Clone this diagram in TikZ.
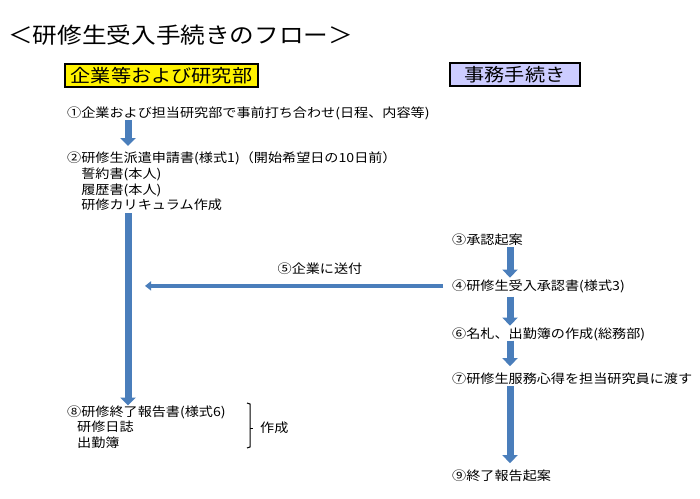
\documentclass[tikz,border=0pt]{standalone}
\usepackage{fontspec}
\setmainfont{Noto Sans CJK JP}[FakeStretch=1.12]
\usetikzlibrary{arrows.meta,positioning}
\definecolor{flowblue}{RGB}{74,126,187}
\definecolor{boxlav}{RGB}{204,204,255}

\begin{document}
\begin{tikzpicture}[x=1pt,y=-1pt]
	\tikzset{stepnote/.style={anchor=base west, inner sep=0pt, align=left,
				font=\fontsize{12.6}{15.6}\selectfont}}
	\tikzset{stepblock/.style={stepnote, anchor=north west}}
	\tikzset{headbox/.style={draw=black, line width=1.2pt, inner sep=0pt,
				minimum height=23pt, font=\fontsize{18}{20}\selectfont}}
	\tikzset{bigarrow/.style={draw=flowblue, line width=7pt,
				-{Triangle[width=15pt,length=8pt]}}}
	\tikzset{thinarrow/.style={draw=flowblue, line width=4pt,
				-{Triangle[width=9pt,length=6pt]}}}

	\useasboundingbox (0,0) rectangle (700,498);

	% title and column heads
	\node[anchor=west, inner sep=0pt, font=\fontsize{22}{26}\selectfont] (title) at (8,35) {＜研修生受入手続きのフロー＞};
	\node[headbox, fill=yellow, minimum width=193pt] (kigyo) at (161.5,75.5) {企業等および研究部};
	\node[headbox, fill=boxlav, minimum width=130pt] (jimu) at (515,74.5) {事務手続き};

	% left column
	\node[stepnote] (s1) at (67,117.5) {①企業および担当研究部で事前打ち合わせ(日程、内容等)};
	\node[stepblock] (s2) at (67,152) {②研修生派遣申請書(様式1)（開始希望日の10日前）\\　誓約書(本人)\\　履歴書(本人)\\　研修カリキュラム作成};
	\node[stepblock] (s8) at (67,405.5) {⑧研修終了報告書(様式6)\\\hspace{10pt}研修日誌\\\hspace{10pt}出勤簿};
	\node[anchor=west, inner sep=0pt, font=\fontsize{12.6}{15.6}\selectfont] (sakusei) at (260,428) {作成};

	% right column
	\node[stepnote] (s3) at (452,244) {③承認起案};
	\node[stepnote] (s4) at (452,290) {④研修生受入承認書(様式3)};
	\node[stepnote] (s6) at (452,338) {⑥名札、出勤簿の作成(総務部)};
	\node[stepnote] (s7) at (452,383) {⑦研修生服務心得を担当研究員に渡す};
	\node[stepnote] (s9) at (452,480) {⑨終了報告起案};

	\coordinate (lx) at (128,0);
	\coordinate (rx) at (510,0);
	\coordinate (back) at (145,0);

	\draw[bigarrow, shorten >=6pt] (s1.south -| lx) -- (s2.north -| lx);
	\draw[bigarrow, shorten <=2pt] (s2.south -| lx) -- (s8.north -| lx);
	\draw[bigarrow, shorten <=1.5pt, shorten >=1.5pt] (s3.south -| rx) -- (s4.north -| rx);
	\draw[bigarrow, shorten <=4pt, shorten >=1.5pt] (s4.south -| rx) -- (s6.north -| rx);
	\draw[bigarrow, shorten >=6pt] (s6.south -| rx) -- (s7.north -| rx);
	\draw[bigarrow, shorten <=1.5pt, shorten >=6pt] (s7.south -| rx) -- (s9.north -| rx);
	\draw[thinarrow, shorten <=9pt] (s4.west) -- (s4.west -| back)
		node[pos=0.43, above=9pt, inner sep=0pt, font=\fontsize{12.6}{15.6}\selectfont] (send) {⑤企業に送付};

	% bracket
	\draw[line width=1pt] (247,403) -- (250,404) -- (250,447) -- (247,448);
	\draw[line width=1pt] (250,428) -- (252.5,428);
\end{tikzpicture}
\end{document}
